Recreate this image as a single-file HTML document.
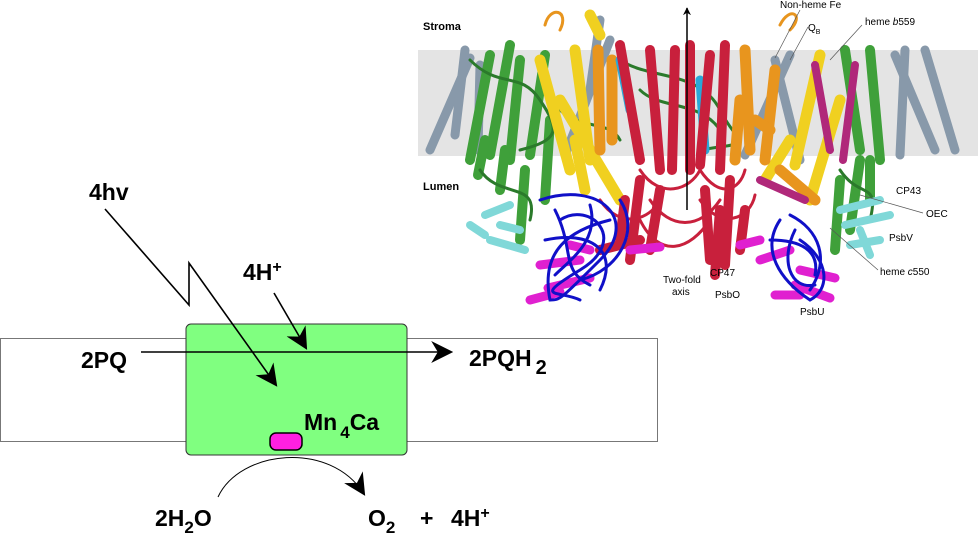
<!DOCTYPE html>
<html><head><meta charset="utf-8"><style>
html,body{margin:0;padding:0;background:#fff;}
#root{position:relative;width:978px;height:544px;overflow:hidden;font-family:"Liberation Sans",sans-serif;}
svg{position:absolute;left:0;top:0;}
</style></head><body>
<div id="root">
<svg width="978" height="544" viewBox="0 0 978 544">
<defs>
<marker id="ah" viewBox="0 0 10 10" refX="9" refY="5" markerWidth="8" markerHeight="8" orient="auto-start-reverse" markerUnits="userSpaceOnUse"><path d="M0,0 L10,5 L0,10 L3,5 z" fill="#000"/></marker>
<marker id="ahb" viewBox="0 0 10 10" refX="9" refY="5" markerWidth="22" markerHeight="22" orient="auto" markerUnits="userSpaceOnUse"><path d="M0,0 L10,5 L0,10 L3,5 z" fill="#000"/></marker>
</defs>

<g>
<rect x="418" y="50" width="560" height="106" fill="#e4e4e4"/>
<g stroke-linecap="round" fill="none">
<g stroke="#8899aa" stroke-width="9">
<line x1="430" y1="150" x2="470" y2="58"/><line x1="455" y1="135" x2="465" y2="50"/><line x1="478" y1="150" x2="480" y2="65"/>
<line x1="565" y1="155" x2="610" y2="40"/><line x1="590" y1="90" x2="600" y2="20"/>
<line x1="745" y1="155" x2="790" y2="55"/><line x1="800" y1="160" x2="775" y2="60"/>
<line x1="935" y1="150" x2="895" y2="55"/><line x1="955" y1="150" x2="925" y2="50"/><line x1="900" y1="155" x2="905" y2="50"/>
</g>
<g stroke="#3fa03a" stroke-width="10">
<line x1="470" y1="160" x2="490" y2="55"/><line x1="490" y1="155" x2="510" y2="45"/><line x1="510" y1="160" x2="520" y2="60"/>
<line x1="530" y1="155" x2="545" y2="55"/><line x1="545" y1="200" x2="550" y2="120"/><line x1="520" y1="240" x2="525" y2="170"/>
<line x1="500" y1="190" x2="505" y2="150"/><line x1="478" y1="175" x2="485" y2="140"/>
<line x1="860" y1="150" x2="845" y2="50"/><line x1="880" y1="160" x2="870" y2="50"/><line x1="835" y1="250" x2="840" y2="180"/>
<line x1="850" y1="230" x2="860" y2="160"/><line x1="870" y1="200" x2="870" y2="160"/>
</g>
<g stroke="#2b7a2b" stroke-width="3">
<path d="M470 60 C 500 90, 520 70, 540 100 S 560 140, 520 150"/><path d="M620 60 C 650 80, 700 70, 720 110 S 760 140, 700 150"/>
<path d="M480 170 C 500 200, 540 180, 530 220"/><path d="M840 170 C 860 200, 880 180, 870 220"/>
<path d="M640 90 C 660 110, 700 100, 720 130"/><path d="M560 110 C 580 130, 610 120, 620 140"/>
</g>
<g stroke="#f0d020" stroke-width="11">
<line x1="570" y1="170" x2="540" y2="60"/><line x1="590" y1="160" x2="575" y2="50"/><line x1="620" y1="200" x2="560" y2="100"/>
<line x1="795" y1="165" x2="820" y2="55"/><line x1="810" y1="200" x2="840" y2="100"/><line x1="600" y1="35" x2="590" y2="15"/>
<line x1="585" y1="190" x2="575" y2="140"/><line x1="765" y1="180" x2="790" y2="140"/>
</g>
<g stroke="#e8951e" stroke-width="11">
<line x1="600" y1="150" x2="598" y2="50"/><line x1="612" y1="140" x2="612" y2="60"/><line x1="750" y1="150" x2="745" y2="50"/>
<line x1="765" y1="160" x2="775" y2="70"/><line x1="780" y1="170" x2="815" y2="200"/><line x1="740" y1="100" x2="735" y2="160"/>
<line x1="755" y1="120" x2="770" y2="130"/>
<path d="M545 25 C 550 5, 570 10, 560 30" stroke-width="3"/><path d="M780 25 C 790 5, 805 15, 790 30" stroke-width="3"/>
</g>
<g stroke="#2aa8d8" stroke-width="9"><line x1="630" y1="110" x2="620" y2="60"/><line x1="700" y1="80" x2="705" y2="150"/></g>
<g stroke="#c8203c" stroke-width="10">
<line x1="640" y1="160" x2="620" y2="45"/><line x1="660" y1="170" x2="650" y2="50"/><line x1="672" y1="170" x2="675" y2="50"/>
<line x1="690" y1="170" x2="690" y2="45"/><line x1="700" y1="165" x2="710" y2="55"/><line x1="720" y1="170" x2="725" y2="45"/>
<line x1="630" y1="260" x2="640" y2="180"/><line x1="650" y1="250" x2="660" y2="190"/><line x1="710" y1="260" x2="705" y2="190"/>
<line x1="725" y1="265" x2="730" y2="180"/><line x1="715" y1="275" x2="720" y2="210"/><line x1="600" y1="250" x2="640" y2="240"/>
<line x1="620" y1="240" x2="625" y2="200"/><line x1="740" y1="250" x2="745" y2="210"/>
</g>
<g stroke="#c8203c" stroke-width="3">
<path d="M640 170 C 660 200, 690 190, 700 170 C 720 200, 740 190, 745 170"/><path d="M650 200 C 670 230, 700 230, 720 200"/>
<path d="M640 220 C 660 260, 690 250, 710 220"/><path d="M600 200 C 620 230, 650 220, 660 200"/><path d="M700 200 C 720 230, 750 220, 755 195"/>
</g>
<g stroke="#b0287a" stroke-width="8"><line x1="843" y1="160" x2="855" y2="65"/><line x1="830" y1="150" x2="815" y2="65"/><line x1="760" y1="180" x2="805" y2="200"/></g>
<g stroke="#e020d0" stroke-width="9">
<line x1="530" y1="300" x2="560" y2="292"/><line x1="548" y1="288" x2="590" y2="278"/><line x1="630" y1="250" x2="660" y2="247"/>
<line x1="740" y1="245" x2="760" y2="240"/><line x1="760" y1="260" x2="790" y2="250"/><line x1="795" y1="285" x2="830" y2="298"/>
<line x1="800" y1="270" x2="835" y2="278"/><line x1="540" y1="265" x2="580" y2="260"/><line x1="570" y1="245" x2="590" y2="250"/>
<line x1="775" y1="295" x2="800" y2="295"/>
</g>
<g stroke="#80d8d8" stroke-width="8">
<line x1="485" y1="215" x2="510" y2="205"/><line x1="490" y1="240" x2="525" y2="250"/><line x1="500" y1="225" x2="520" y2="230"/>
<line x1="840" y1="210" x2="880" y2="200"/><line x1="845" y1="225" x2="890" y2="215"/><line x1="850" y1="245" x2="880" y2="240"/>
<line x1="470" y1="225" x2="485" y2="235"/><line x1="860" y1="230" x2="870" y2="255"/>
</g>
<g stroke="#1010c8" stroke-width="3">
<path d="M540 200 C 600 180, 640 220, 600 260 S 560 300, 550 300 C 540 250, 570 230, 610 220"/>
<path d="M560 220 C 590 200, 630 240, 580 270 S 560 290, 580 300"/>
<path d="M545 240 C 590 230, 620 250, 600 290"/><path d="M620 200 C 640 230, 620 270, 580 280"/>
<path d="M555 210 C 575 250, 560 270, 590 285"/><path d="M590 205 C 600 240, 570 260, 555 275"/>
<path d="M780 220 C 760 250, 780 280, 810 300 C 830 290, 830 260, 800 240"/>
<path d="M790 215 C 820 230, 830 260, 810 290"/><path d="M770 240 C 800 240, 820 250, 815 275"/>
<path d="M795 230 C 780 260, 790 290, 815 285"/>
</g>
</g>
<line x1="687" y1="210" x2="687" y2="8" stroke="#000" stroke-width="1.5" marker-end="url(#ah)"/>
<g font-size="10" fill="#000">
<text x="423" y="30" font-weight="bold" font-size="11">Stroma</text>
<text x="423" y="190" font-weight="bold" font-size="11">Lumen</text>
<text x="780" y="8">Non-heme Fe</text>
<text x="808" y="31">Q<tspan font-size="7" dy="3">B</tspan></text>
<text x="865" y="25">heme <tspan font-style="italic">b</tspan>559</text>
<text x="896" y="194">CP43</text>
<text x="926" y="217">OEC</text>
<text x="889" y="241">PsbV</text>
<text x="880" y="275">heme <tspan font-style="italic">c</tspan>550</text>
<text x="710" y="276">CP47</text>
<text x="663" y="283">Two-fold</text>
<text x="672" y="295">axis</text>
<text x="715" y="298">PsbO</text>
<text x="800" y="315">PsbU</text>
</g>
<g stroke="#555" stroke-width="0.7">
<line x1="800" y1="10" x2="775" y2="58"/><line x1="808" y1="27" x2="790" y2="60"/><line x1="862" y1="25" x2="830" y2="60"/>
<line x1="923" y1="213" x2="860" y2="195"/><line x1="878" y1="270" x2="830" y2="228"/>
</g>
</g>

<rect x="0.5" y="338.5" width="657" height="103" fill="#fff" stroke="#777" stroke-width="1"/>
<rect x="186" y="324" width="221" height="131" rx="5" fill="#80ff80" stroke="#333" stroke-width="1"/>
<rect x="270" y="433" width="32" height="17" rx="6" fill="#ff20e0" stroke="#000" stroke-width="1.5"/>
<polyline points="105,209 189,305 189,263 276,385" fill="none" stroke="#000" stroke-width="1.6" marker-end="url(#ahb)"/>
<line x1="274" y1="293" x2="306" y2="348" stroke="#000" stroke-width="1.6" marker-end="url(#ahb)"/>
<line x1="141" y1="352" x2="451" y2="352" stroke="#000" stroke-width="1.6" marker-end="url(#ahb)"/>
<path d="M218,497 C 240,450 330,440 364,494" fill="none" stroke="#000" stroke-width="1" marker-end="url(#ahb)"/>
<g font-weight="bold" font-size="23" fill="#000">
<text x="89" y="200">4hv</text>
<text x="243" y="280">4H<tspan font-size="16" dy="-8">+</tspan></text>
<text x="81" y="368">2PQ</text>
<text x="469" y="366">2PQH<tspan font-size="20" dx="4" dy="8">2</tspan></text>
<text x="304" y="430">Mn<tspan font-size="17" dx="3" dy="8">4</tspan><tspan dy="-8">Ca</tspan></text>
<text x="155" y="526">2H<tspan font-size="17" dy="7">2</tspan><tspan dy="-7">O</tspan></text>
<text x="368" y="526">O<tspan font-size="17" dy="7">2</tspan></text>
<text x="420" y="526">+</text>
<text x="451" y="526">4H<tspan font-size="16" dy="-8">+</tspan></text>
</g>
</svg>
</div>
</body></html>
